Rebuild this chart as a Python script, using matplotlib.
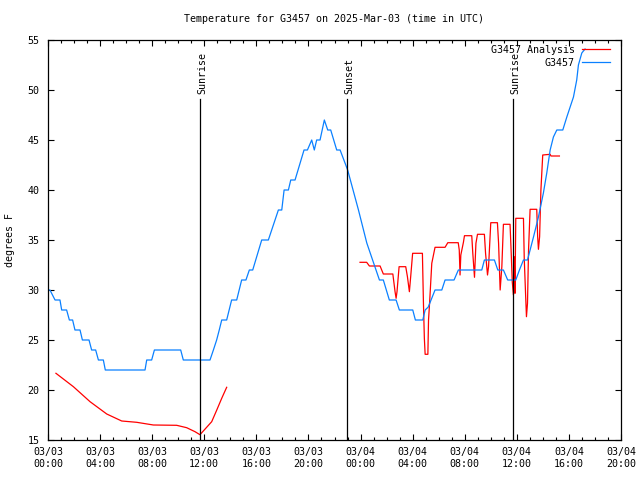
import matplotlib
matplotlib.use("Agg")
import matplotlib.pyplot as plt
import numpy as np

# hours since 03/03 00:00 UTC
obs_hours = [0.0, 0.15, 0.54, 0.92, 1.05, 1.43, 1.64, 1.89, 2.07, 2.46, 2.64, 3.15, 3.35, 3.66,
             3.87, 4.25, 4.4, 7.45, 7.58, 7.96, 8.17, 10.19, 10.39, 12.44, 12.7, 12.95, 13.15,
             13.34, 13.72, 14.1, 14.49, 14.87, 15.2, 15.46, 15.72, 16.41, 16.92, 17.69, 17.95,
             18.13, 18.46, 18.64, 18.97, 19.66, 19.92, 20.25, 20.45, 20.63, 20.89, 21.22, 21.48,
             21.71, 22.17, 22.43, 23.01, 23.84, 24.48, 25.45, 25.75, 26.21, 26.73, 26.98, 28.01,
             28.21, 28.78, 28.96, 29.2, 29.72, 30.24, 30.49, 31.18, 31.51, 33.31, 33.51, 34.28,
             34.54, 34.97, 35.3, 35.92, 36.2, 36.51, 36.82, 37.28, 37.66, 38.04, 38.3, 38.56,
             38.81, 39.07, 39.53, 39.84, 40.35, 40.6, 40.73, 40.99, 41.24]
obs_temp = [30, 30, 29, 29, 28, 28, 27, 27, 26, 26, 25, 25, 24, 24,
            23, 23, 22, 22, 23, 23, 24, 24, 23, 23, 24, 25, 26,
            27, 27, 29, 29, 31, 31, 32, 32, 35, 35, 38, 38,
            40, 40, 41, 41, 44, 44, 45, 44, 45, 45, 47, 46,
            46, 44, 44, 42, 38, 34.7, 31, 31, 29, 29, 28, 28,
            27, 27, 28, 28.3, 30, 30, 31, 31, 32, 32, 33, 33,
            32, 32, 31, 31, 32, 33, 33, 35.3, 37.3, 39.7, 41.7, 44,
            45.3, 46, 46, 47.3, 49.3, 51, 52.5, 53.7, 54.1]

ana_hours = [0.61, 1.95, 3.23, 4.51, 5.66, 6.81, 8.09, 9.88, 10.65, 11.29, 11.67, 12.57, 12.96,
             13.34, 13.72, 18.0,
             23.96, 24.47, 24.68, 25.5, 25.75, 26.48, 26.65, 26.73, 26.8, 26.96, 27.47, 27.6,
             27.75, 27.85, 28.0, 28.75, 28.83, 28.9, 28.96, 29.17, 29.22, 29.3, 29.47, 29.72,
             30.49, 30.7, 31.5, 31.58, 31.64, 31.7, 31.9, 31.98, 32.54, 32.62, 32.75, 32.86,
             32.98, 33.51, 33.6, 33.75, 33.83, 34.0, 34.51, 34.6, 34.72, 34.85, 34.97, 35.48,
             35.57, 35.65, 35.74, 35.8, 35.86, 35.92, 36.51, 36.57, 36.68, 36.74, 36.82, 36.9,
             37.02, 37.53, 37.6, 37.66, 37.75, 37.85, 37.99, 38.56, 38.62, 39.27]
ana_temp = [21.67, 20.33, 18.83, 17.6, 16.9, 16.77, 16.5, 16.47, 16.23, 15.83, 15.53, 16.83, 18.0,
            19.17, 20.27, np.nan,
            32.77, 32.77, 32.4, 32.4, 31.6, 31.6, 29.83, 29.17, 29.83, 32.33, 32.33, 31.33,
            29.83, 31.33, 33.67, 33.67, 28.67, 25.17, 23.57, 23.57, 27.0, 28.67, 32.67, 34.27,
            34.27, 34.73, 34.73, 34.0, 31.5, 33.5, 34.77, 35.43, 35.43, 33.67, 31.27, 34.67,
            35.57, 35.57, 33.67, 31.5, 32.33, 36.73, 36.73, 34.67, 30.0, 32.33, 36.57, 36.57,
            33.67, 30.83, 29.5, 33.33, 29.67, 37.17, 37.17, 33.17, 29.33, 27.33, 28.67, 34.0,
            38.07, 38.07, 35.33, 34.07, 35.33, 40.0, 43.5, 43.57, 43.4, 43.4]

sun_events = ["Sunrise", "Sunset", "Sunrise"]
sun_hours = [11.7, 22.98, 35.73]

tick_hours = [0, 4, 8, 12, 16, 20, 24, 28, 32, 36, 40, 44]
tick_labels = ["03/03\n00:00", "03/03\n04:00", "03/03\n08:00", "03/03\n12:00",
               "03/03\n16:00", "03/03\n20:00", "03/04\n00:00", "03/04\n04:00",
               "03/04\n08:00", "03/04\n12:00", "03/04\n16:00", "03/04\n20:00"]

plt.rcParams['font.family'] = 'DejaVu Sans Mono'
plt.rcParams['font.size'] = 7.2

fig = plt.figure(figsize=(6.4, 4.8), dpi=100)
ax = fig.add_axes([48/640, 40/480, 573/640, 400/480])

ax.plot(ana_hours, ana_temp, color='#ff0000', lw=0.9, label='G3457 Analysis')
ax.plot(obs_hours, obs_temp, color='#0a80ff', lw=0.9, label='G3457')

for name, h in zip(sun_events, sun_hours):
    ax.plot([h, h], [15, 49.1], color='black', lw=0.9)
    ax.text(h + 0.15, 49.6, name, rotation=90, ha='center', va='bottom', fontsize=7.2)

ax.set_xlim(0, 44)
ax.set_ylim(15, 55)
ax.set_xticks(tick_hours)
ax.set_xticklabels(tick_labels)
ax.set_xticks(np.arange(0, 45, 1), minor=True)
ax.set_yticks(np.arange(15, 56, 5))
ax.tick_params(which='both', direction='in', top=True, right=True, width=0.8)
ax.tick_params(which='major', length=4.5)
ax.tick_params(which='minor', length=2.2)
ax.tick_params(axis='x', pad=5)
ax.tick_params(axis='y', pad=6)
for s in ax.spines.values():
    s.set_linewidth(0.9)

ax.set_title("Temperature for G3457 on 2025-Mar-03 (time in UTC)", fontsize=7.2, pad=13)
fig.text(10/640, 0.5, "degrees F", rotation=90, ha='center', va='center', fontsize=7.2)

ax.legend(loc='upper right', bbox_to_anchor=(0.991, 1.003), frameon=False, markerfirst=False,
          handlelength=2.8, handletextpad=0.7, labelspacing=0.3, borderaxespad=0.3,
          borderpad=0.3)

fig.savefig("out.png", dpi=100)
